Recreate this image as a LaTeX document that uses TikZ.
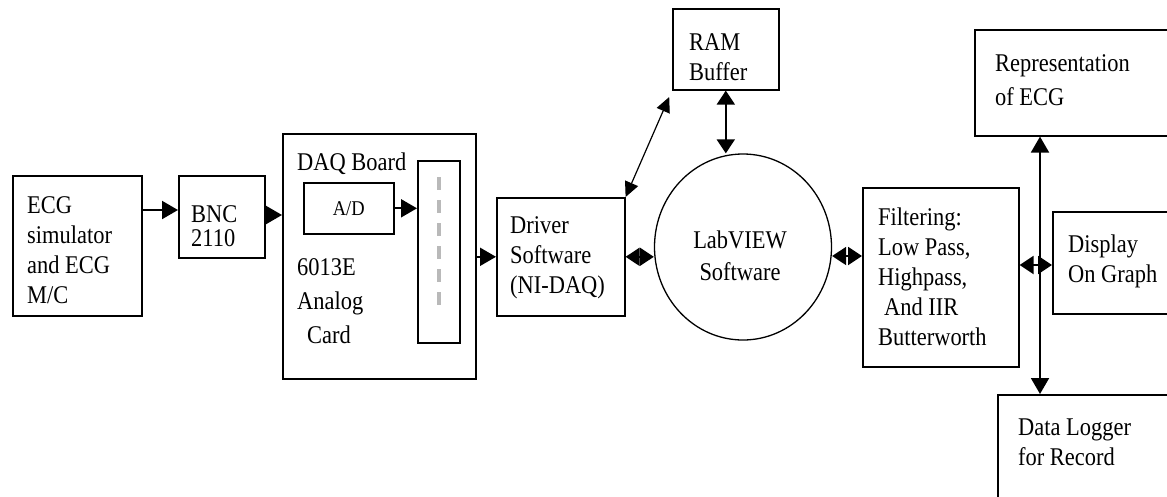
\documentclass[tikz,border=0pt]{standalone}
\usepackage{fontspec}
\setmainfont[FakeStretch=0.88]{Liberation Serif}
\usetikzlibrary{arrows.meta,shapes.geometric}
\begin{document}
\begin{tikzpicture}[x=1pt,y=-1pt,
 box/.style={draw, line width=1.6pt, anchor=north west, inner sep=0pt},
 wh/.style 2 args={minimum width=#1pt, minimum height=#2pt},
 txt/.style={anchor=north west, inner sep=0pt, align=left, font=\fontsize{25.5}{30}\selectfont},
 arr/.style={line width=2pt, -{Triangle[length=16pt,width=18pt]}},
 darr/.style={line width=2pt, {Triangle[length=14pt,width=18pt]}-{Triangle[length=14pt,width=18pt]}},
 thinarr/.style={line width=1.2pt, {Triangle[length=15pt,width=14pt]}-{Triangle[length=15pt,width=14pt]}},
]
\useasboundingbox (0,0) rectangle (1167,496);
\fill[white] (0,0) rectangle (1167,496);
\clip (0,0) rectangle (1167,496);

% boxes
\node[box, wh={129}{140}] (ecg) at (12,175) {};
\node[box, wh={86}{82}] (bnc) at (178,175) {};
\node[box, wh={193}{245}] (daq) at (282,133) {};
\node[box, wh={90}{51}] (ad) at (303,182) {};
\node[box, wh={42}{182}] (slot) at (417,160) {};
\node[box, wh={128}{118}] (drv) at (496,197) {};
\node[box, wh={106}{81}] (ram) at (672,8) {};
\node[draw, line width=1.3pt, ellipse, minimum width=177pt, minimum height=186pt, inner sep=0pt] (lv) at (743,247) {};
\node[box, wh={156}{179}] (filt) at (862,187) {};
\node[box, wh={210}{106}] (rep) at (974,29) {};
\node[box, wh={130}{102}] (disp) at (1052,211) {};
\node[box, wh={190}{120}] (log) at (997,394) {};

% slot markings
\draw[gray!55, line width=4pt, dash pattern=on 13pt off 10pt] (slot.north |- 0,177) -- (slot.north |- 0,308);

% texts
\node[txt] (ecgT) at (27,192) {\strut ECG\\simulator\\and ECG\\M/C};
\node[txt] (bncT) at (191,201) {\strut BNC\\[-6pt]2110};
\node[txt] (daqT) at (297,149) {\strut DAQ Board};
\node[inner sep=0pt, font=\fontsize{21}{24}\selectfont] (adT) at (ad.center) {A/D};
\node[txt] (cardT) at (297,254) {\strut 6013E\\[4pt]Analog\\[4pt]\hspace{10pt}Card};
\node[txt] (drvT) at (510,212) {\strut Driver\\Software\\(NI-DAQ)};
\node[txt] (ramT) at (689,29) {\strut RAM\\Buffer};
\node[txt, anchor=north, align=center] (lvT) at (740,227) {\strut LabVIEW\\[2pt]Software};
\node[txt] (repT) at (995,50) {\strut Representation\\[4pt]of ECG};
\node[txt] (filtT) at (878,204) {\strut Filtering:\\Low Pass,\\Highpass,\\\hspace{6pt}And IIR\\Butterworth};
\node[txt] (dispT) at (1068,231) {\strut Display\\On Graph};
\node[txt] (logT) at (1018,414) {\strut Data Logger\\for Record};

% connectors
\draw[arr] (ecg.east |- 0,210) -- (bnc.west |- 0,210);
\draw[arr] (bnc.east |- 0,215) -- (daq.west |- 0,215);
\draw[arr] (ad.east) -- (ad.east -| slot.west);
\draw[arr] (daq.east |- drv.west) -- (drv.west);
\draw[darr] (drv.east) -- (drv.east -| lv.west);
\draw[thinarr, shorten >=7pt] (drv.north east) -- (ram.south west);
\draw[darr] (ram.south) -- (ram.south |- lv.north);
\draw[darr] (lv.east |- 0,256) -- (filt.west |- 0,256);
\coordinate (hub) at (1040,265);
\draw[arr] (hub) -- (hub |- rep.south);
\draw[arr] (hub) -- (hub |- log.north);
\draw[darr] (filt.east |- hub) -- (disp.west |- hub);
\end{tikzpicture}
\end{document}
